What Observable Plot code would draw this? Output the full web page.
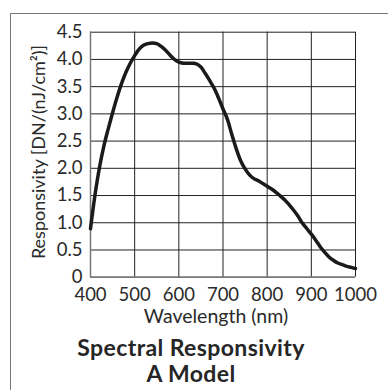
<!DOCTYPE html>
<html>
<head>
<meta charset="utf-8">
<script src="https://cdn.jsdelivr.net/npm/d3@7"></script>
<script src="https://cdn.jsdelivr.net/npm/@observablehq/plot@0.6"></script>
<style>
  html, body { margin: 0; padding: 0; background: #fff; }
  #wrap { position: relative; width: 388px; height: 390px; overflow: hidden; font-family: Lato, "Open Sans", sans-serif; }
  #border { position: absolute; left: 10px; top: 13px; width: 378px; height: 390px; border-top: 1.5px solid #777; border-left: 1.5px solid #777; box-sizing: border-box; }
  #chart { position: absolute; left: 0; top: 0; }
  #title { position: absolute; left: 0; width: 382px; top: 334px; text-align: center; font-weight: 700; font-size: 23px; letter-spacing: 0.4px; line-height: 26px; color: #262626; }
</style>
</head>
<body>
<div id="wrap">
  <div id="border"></div>
  <div id="chart"></div>
  <div id="title">Spectral Responsivity<br>A Model</div>
</div>
<script>
const wavelengths = [400,410,420,430,440,450,460,470,480,490,500,510,520,530,540,550,560,570,580,590,600,610,620,630,640,650,660,670,680,690,700,710,720,730,740,750,760,770,780,790,800,810,820,830,840,850,860,870,880,890,900,910,920,930,940,950,960,970,980,990,1000];
const responsivity = [0.89,1.50,2.00,2.40,2.72,3.02,3.30,3.55,3.76,3.93,4.07,4.19,4.26,4.29,4.30,4.29,4.24,4.17,4.08,4.00,3.95,3.93,3.93,3.93,3.92,3.86,3.74,3.61,3.47,3.29,3.09,2.90,2.62,2.36,2.14,1.99,1.88,1.81,1.77,1.72,1.67,1.62,1.56,1.49,1.42,1.33,1.23,1.12,0.99,0.89,0.79,0.68,0.56,0.46,0.37,0.31,0.26,0.23,0.20,0.18,0.16];
const xTicks = [400,500,600,700,800,900,1000];
const yTicks = [0,0.5,1.0,1.5,2.0,2.5,3.0,3.5,4.0,4.5];
const xLabel = "Wavelength (nm)";
const yLabel = "Responsivity [DN/(nJ/cm²)]";

const data = wavelengths.map((w, i) => ({w, r: responsivity[i]}));

const chart = Plot.plot({
  width: 388,
  height: 335,
  marginLeft: 90,
  marginRight: 33,
  marginTop: 31.7,
  marginBottom: 58.3,
  style: {fontFamily: "Lato, 'Open Sans', sans-serif", fontSize: "18.5px", color: "#2a2a2a", background: "transparent"},
  x: {domain: [400, 1000]},
  y: {domain: [0, 4.5]},
  marks: [
    Plot.gridX(xTicks, {stroke: "#222", strokeOpacity: 1, strokeWidth: 1}),
    Plot.gridY(yTicks, {stroke: "#222", strokeOpacity: 1, strokeWidth: 1}),
    Plot.ruleX([400], {stroke: "#777", strokeWidth: 1.5}),
    Plot.ruleY([0], {stroke: "#777", strokeWidth: 1.5}),
    Plot.axisX(xTicks, {tickSize: 0, tickPadding: 10.5, fontSize: 18.5, label: null, tickFormat: d => String(d)}),
    Plot.axisY(yTicks, {tickSize: 0, tickPadding: 8, fontSize: 18.5, label: null, tickFormat: d => d === 0 ? "0" : d.toFixed(1)}),
    Plot.line(data, {x: "w", y: "r", curve: "catmull-rom", stroke: "#1a1a1a", strokeWidth: 3.5, strokeLinejoin: "round", strokeLinecap: "round"})
  ]
});

const svg = d3.select(chart);
svg.append("text")
  .attr("x", 216).attr("y", 323)
  .attr("text-anchor", "middle")
  .attr("font-size", 19.5).attr("fill", "#2a2a2a")
  .text(xLabel);
svg.append("text")
  .attr("transform", "translate(45,152) rotate(-90)")
  .attr("text-anchor", "middle")
  .attr("font-size", 18).attr("fill", "#2a2a2a")
  .text(yLabel);

document.getElementById("chart").appendChild(chart);
</script>
</body>
</html>
